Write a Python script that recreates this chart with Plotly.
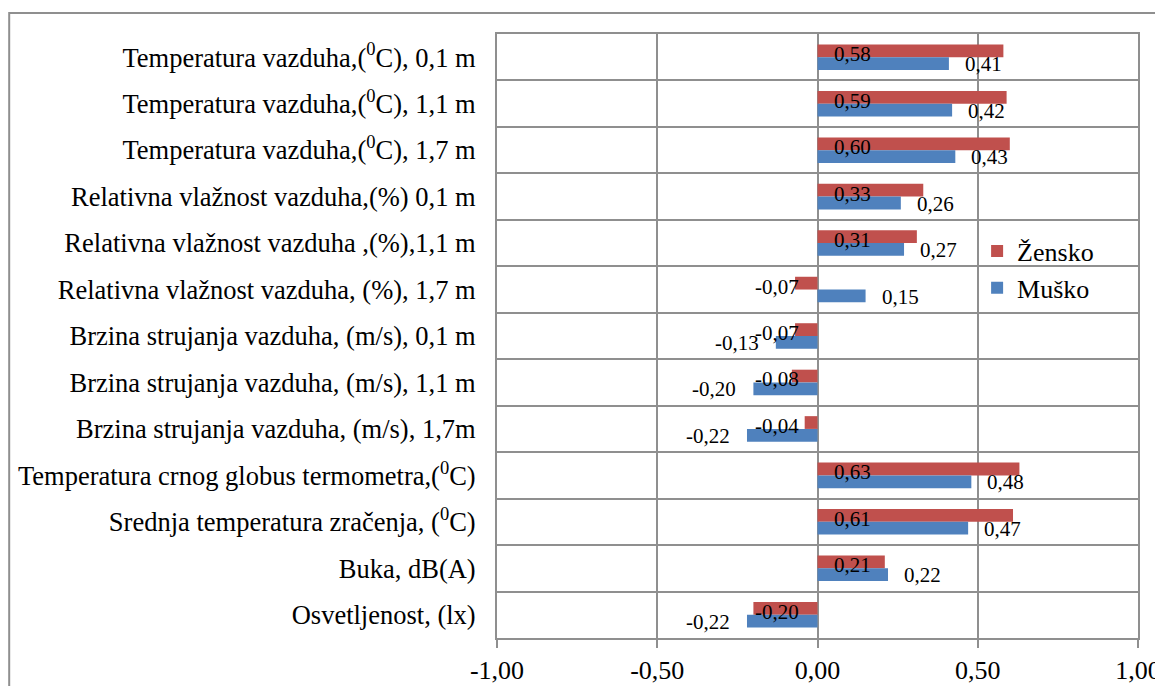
import plotly.graph_objects as go

# categories top to bottom
categories = [
    "Temperatura vazduha,(<sup>0</sup>C), 0,1 m",
    "Temperatura vazduha,(<sup>0</sup>C), 1,1 m",
    "Temperatura vazduha,(<sup>0</sup>C), 1,7 m",
    "Relativna vlažnost vazduha,(%) 0,1 m",
    "Relativna vlažnost vazduha ,(%),1,1 m",
    "Relativna vlažnost vazduha, (%), 1,7 m",
    "Brzina strujanja vazduha, (m/s), 0,1 m",
    "Brzina strujanja vazduha, (m/s), 1,1 m",
    "Brzina strujanja vazduha, (m/s), 1,7m",
    "Temperatura crnog globus termometra,(<sup>0</sup>C)",
    "Srednja temperatura zračenja, (<sup>0</sup>C)",
    "Buka, dB(A)",
    "Osvetljenost, (lx)",
]
zensko = [0.58, 0.59, 0.60, 0.33, 0.31, -0.07, -0.07, -0.08, -0.04, 0.63, 0.61, 0.21, -0.20]
musko = [0.41, 0.42, 0.43, 0.26, 0.27, 0.15, -0.13, -0.20, -0.22, 0.48, 0.47, 0.22, -0.22]
x_ticks = [-1.0, -0.5, 0.0, 0.5, 1.0]

RED = "#C0504D"
BLUE = "#4F81BD"
GRID = "#8f8f8f"
FONT = "Liberation Serif, Times New Roman, serif"


def fmt(v):
    # decimal comma and a plain hyphen, as in the original
    return f"{v:.2f}".replace(".", ",")


fig = go.Figure()
fig.add_trace(go.Bar(name="Žensko", y=categories, x=zensko, orientation="h",
                     marker=dict(color=RED, line=dict(width=0))))
fig.add_trace(go.Bar(name="Muško", y=categories, x=musko, orientation="h",
                     marker=dict(color=BLUE, line=dict(width=0))))

annotations = []
# Žensko labels sit at the base of the bar
for cat, v in zip(categories, zensko):
    annotations.append(dict(
        x=0, y=cat, xref="x", yref="y", text=fmt(v), showarrow=False,
        xanchor="left" if v >= 0 else "right", xshift=14 if v >= 0 else -17,
        yshift=3, font=dict(family=FONT, size=21, color="black")))
# Muško labels sit just past the bar end
for cat, v in zip(categories, musko):
    annotations.append(dict(
        x=v, y=cat, xref="x", yref="y", text=fmt(v), showarrow=False,
        xanchor="left" if v >= 0 else "right", xshift=14 if v >= 0 else -15,
        yshift=-7, font=dict(family=FONT, size=21, color="black")))

# the page body adds an 8px margin, so the figure is 8px smaller each way
fig.update_layout(
    width=1155, height=678,
    margin=dict(l=489, r=25, t=26, b=48),
    paper_bgcolor="white", plot_bgcolor="white",
    font=dict(family=FONT, size=26, color="black"),
    barmode="group", bargap=0.45, bargroupgap=0,
    showlegend=True,
    legend=dict(x=0.749, y=0.61, xanchor="left", yanchor="middle",
                traceorder="normal", bgcolor="rgba(0,0,0,0)",
                font=dict(family=FONT, size=26), itemwidth=30),
    annotations=annotations,
    shapes=[dict(type="rect", xref="paper", yref="paper",
                 x0=-0.761, y0=-0.12, x1=1.06, y1=1.0348,
                 line=dict(color=GRID, width=2), layer="below")],
)
fig.update_xaxes(
    range=[-1, 1], tickvals=x_ticks, ticktext=[fmt(t) for t in x_ticks],
    automargin=False,
    showgrid=True, gridcolor=GRID, gridwidth=2,
    zeroline=True, zerolinecolor=GRID, zerolinewidth=2,
    showline=True, linecolor=GRID, linewidth=2, mirror=True,
    ticks="outside", ticklen=8, tickcolor=GRID, tickwidth=2,
    tickfont=dict(family=FONT, size=26),
)
fig.update_yaxes(
    autorange="reversed", tickson="boundaries", automargin=False,
    showgrid=True, gridcolor=GRID, gridwidth=2,
    showline=True, linecolor=GRID, linewidth=2, mirror=True,
    ticks="", ticklabelstandoff=14,
    tickfont=dict(family=FONT, size=26.5),
)

fig.write_html("out.html")
